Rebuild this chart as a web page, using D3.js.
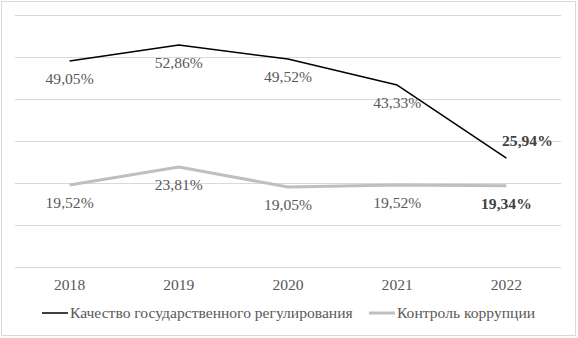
<!DOCTYPE html>
<html>
<head>
<meta charset="utf-8">
<script src="https://cdn.jsdelivr.net/npm/d3@7"></script>
</head>
<body style="margin:0">
<div id="root"></div>
<script>
var years = ["2018", "2019", "2020", "2021", "2022"];
var regulation = [49.05, 52.86, 49.52, 43.33, 25.94];
var corruption = [19.52, 23.81, 19.05, 19.52, 19.34];
var yTicks = [0, 10, 20, 30, 40, 50, 60];
var seriesNames = ["Качество государственного регулирования", "Контроль коррупции"];

var FONT = "'Times New Roman'";
var FS = "15.6px";

var W = 578, H = 338;
var margin = {top: 15, right: 17, bottom: 71, left: 15},
    width = W - margin.left - margin.right,
    height = H - margin.top - margin.bottom;

var fmt = function (v) { return v.toFixed(2).replace(".", ",") + "%"; };

var svg = d3.select("#root").append("svg").attr("width", W).attr("height", H);

// chart border
svg.append("rect")
    .attr("x", 1.5).attr("y", 1.5)
    .attr("width", 574).attr("height", 334)
    .attr("fill", "#fff")
    .attr("stroke", "#d9d9d9");

var g = svg.append("g")
    .attr("transform", "translate(" + margin.left + "," + margin.top + ")");

var x = d3.scaleBand().domain(years).range([0, width]);
var y = d3.scaleLinear().domain([0, 60]).range([height, 0]);
var cx = function (d, i) { return x(years[i]) + x.bandwidth() / 2; };

// gridlines
g.append("g")
    .selectAll("line")
    .data(yTicks)
    .enter()
    .append("line")
    .attr("x1", 0).attr("x2", width)
    .attr("y1", function (d) { return Math.round(y(d)) + 0.5; })
    .attr("y2", function (d) { return Math.round(y(d)) + 0.5; })
    .attr("stroke", "#d9d9d9");

// x axis labels
g.selectAll(".year")
    .data(years)
    .enter()
    .append("text")
    .attr("class", "year")
    .attr("x", function (d) { return x(d) + x.bandwidth() / 2; })
    .attr("y", height + 23)
    .attr("text-anchor", "middle")
    .style("font-family", FONT)
    .style("font-size", FS)
    .attr("fill", "#595959")
    .text(function (d) { return d; });

var line = d3.line()
    .x(cx)
    .y(function (d) { return y(d); });

g.append("path")
    .datum(corruption)
    .attr("d", line)
    .attr("fill", "none")
    .attr("stroke", "#bfbfbf")
    .attr("stroke-width", 3)
    .attr("stroke-linejoin", "round");

g.append("path")
    .datum(regulation)
    .attr("d", line)
    .attr("fill", "none")
    .attr("stroke", "#000")
    .attr("stroke-width", 1.5)
    .attr("stroke-linejoin", "round");

// data labels
function labels(data, cls) {
    var last = data.length - 1;
    g.selectAll("." + cls)
        .data(data)
        .enter()
        .append("text")
        .attr("class", cls)
        .attr("x", function (d, i) {
            return cx(d, i) + (cls === "reg" && i === last ? 21 : 0);
        })
        .attr("y", function (d, i) {
            if (cls === "reg" && i === last) return y(d) - 12;
            return y(d) + 23;
        })
        .attr("text-anchor", "middle")
        .style("font-family", FONT)
        .style("font-size", FS)
        .style("font-weight", function (d, i) { return i === last ? "bold" : "normal"; })
        .attr("fill", function (d, i) { return i === last ? "#404040" : "#595959"; })
        .text(fmt);
}
labels(regulation, "reg");
labels(corruption, "cor");

// legend
var legend = svg.append("g").attr("transform", "translate(0,313)");
var items = [
    {name: seriesNames[0], color: "#000", sw: 1.5, x: 42},
    {name: seriesNames[1], color: "#bfbfbf", sw: 3, x: 369}
];
items.forEach(function (it) {
    legend.append("line")
        .attr("x1", it.x).attr("x2", it.x + 26)
        .attr("y1", 0).attr("y2", 0)
        .attr("stroke", it.color)
        .attr("stroke-width", it.sw);
    legend.append("text")
        .attr("x", it.x + 28)
        .attr("y", 5)
        .style("font-family", FONT)
        .style("font-size", FS)
        .attr("fill", "#595959")
        .text(it.name);
});
</script>
</body>
</html>
